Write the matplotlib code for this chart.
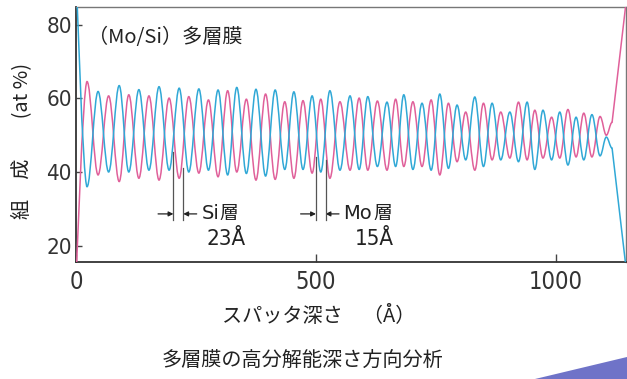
import matplotlib
matplotlib.use("Agg")
import matplotlib.pyplot as plt
from matplotlib import font_manager
from matplotlib.font_manager import FontProperties
from matplotlib.path import Path
from matplotlib.patches import PathPatch, Polygon

# ---- data (extrema of each oscillation) ----
depth = [23, 46, 68, 90, 110, 131, 152, 173, 194, 215, 235, 256, 276, 296, 316,
         335, 355, 375, 395, 415, 435, 454, 473, 492, 510, 529, 550, 571, 590,
         608, 628, 648, 666, 683, 702, 721, 740, 758, 776, 794, 812, 831, 849,
         867, 885, 904, 922, 940, 956, 973, 991, 1008, 1025, 1042, 1058, 1075,
         1092, 1105, 1117]

# blue curve (at %)
mo_pct = [36.0, 61.9, 40.0, 63.5, 40.0, 62.4, 40.5, 63.2, 40.5, 62.8, 40.0,
          62.6, 40.5, 62.3, 39.2, 63.0, 39.6, 62.5, 38.9, 62.3, 40.7, 61.8,
          40.7, 60.7, 40.0, 62.1, 40.5, 60.7, 40.7, 60.5, 41.5, 59.0, 41.5,
          61.0, 40.7, 58.7, 40.5, 61.2, 41.0, 58.2, 43.3, 60.4, 41.5, 58.7,
          43.3, 56.3, 42.8, 59.0, 40.7, 56.8, 43.3, 56.3, 41.9, 54.9, 43.3,
          55.6, 44.4, 49.5, 46.5]

# pink curve (at %)
si_pct = [64.6, 39.2, 60.7, 37.4, 61.0, 38.3, 60.7, 37.8, 60.1, 38.3, 60.5,
          39.7, 59.6, 38.7, 62.1, 40.0, 59.8, 37.8, 61.2, 38.0, 59.1, 38.3,
          59.4, 39.7, 59.8, 38.3, 59.1, 40.5, 60.1, 40.5, 59.3, 40.5, 59.8,
          41.5, 59.1, 41.5, 59.6, 39.2, 58.7, 42.8, 56.3, 40.5, 58.7, 43.3,
          56.3, 43.8, 59.0, 43.3, 56.8, 43.8, 54.9, 43.8, 57.0, 44.1, 56.0,
          44.1, 55.1, 50.0, 53.5]

# surface / substrate ends of the profile
mo_ends = [(0, 95), (1146, 14)]
si_ends = [(0, 10), (1146, 86)]

# layer thickness markers
si_marks = [203, 223.5]
si_tops = [45.5, 41.1]
mo_marks = [500, 520]
mo_tops = [44.1, 43.3]

xticks = [0, 500, 1000]
yticks = [20, 40, 60, 80]

BLUE = "#30a8d6"
PINK = "#e0609a"
JP = ["Noto Sans CJK JP", "DejaVu Sans"]


def narrow_font(size):
    # a narrow sans for the digits, whichever one is installed
    fonts = font_manager.fontManager.ttflist
    for f in fonts:
        if f.name == "Liberation Sans Narrow" and f.weight in (400, "normal") and f.style == "normal":
            return FontProperties(fname=f.fname, size=size)
    for f in fonts:
        if f.name == "DejaVu Sans" and "Condensed" in f.fname and "Bold" not in f.fname \
                and "Oblique" not in f.fname:
            return FontProperties(fname=f.fname, size=size)
    return FontProperties(family="DejaVu Sans", stretch="condensed", size=size)


def wave_path(xs, ys, ends):
    # smooth curve through the extrema (horizontal tangents at each one)
    (x0, y0), (x1, y1) = ends
    verts = [(x0, y0)]
    codes = [Path.MOVETO]
    px, py = x0, y0
    for i, (xi, yi) in enumerate(zip(xs, ys)):
        dx = xi - px
        c1 = (px, py) if i == 0 else (px + 0.364 * dx, py)
        c2 = (xi - 0.364 * dx, yi)
        verts += [c1, c2, (xi, yi)]
        codes += [Path.CURVE4] * 3
        px, py = xi, yi
    verts.append((x1, y1))
    codes.append(Path.LINETO)
    return Path(verts, codes)


fig = plt.figure(figsize=(6.27, 3.79), dpi=100)
W, H = 627, 379
ax = fig.add_axes([76 / W, 1 - 261.7 / H, 550 / W, 254.4 / H])

ax.add_patch(PathPatch(wave_path(depth, si_pct, si_ends), fill=False,
                       edgecolor=PINK, lw=1.1, zorder=3))
ax.add_patch(PathPatch(wave_path(depth, mo_pct, mo_ends), fill=False,
                       edgecolor=BLUE, lw=1.1, zorder=3))

ax.set_xlim(0, 1146)
ax.set_ylim(15.6, 84.8)
ax.set_xticks(xticks)
ax.set_yticks(yticks)
ax.set_xticklabels([str(t) for t in xticks], fontproperties=narrow_font(17), color="#333333")
ax.set_yticklabels([str(t) for t in yticks], fontproperties=narrow_font(16), color="#333333")
ax.tick_params(axis="x", direction="in", length=6, width=1, color="#444444", pad=6)
ax.tick_params(axis="y", direction="in", length=4, width=1, color="#444444", pad=3)
for side in ["left", "bottom"]:
    ax.spines[side].set_color("#333333")
    ax.spines[side].set_linewidth(1.3)
for side in ["top", "right"]:
    ax.spines[side].set_color("#777777")
    ax.spines[side].set_linewidth(1.0)

# thickness markers
y_bot = 27.0
y_arr = 28.6
for xs, tops in [(si_marks, si_tops), (mo_marks, mo_tops)]:
    for xm, yt in zip(xs, tops):
        ax.plot([xm, xm], [y_bot, yt], color="#555555", lw=0.9, zorder=4)
    ax.annotate("", xy=(xs[0], y_arr), xytext=(xs[0] - 32, y_arr),
                arrowprops=dict(arrowstyle="-|>", color="#222222", lw=0.9,
                                mutation_scale=7, shrinkA=0, shrinkB=0))
    ax.annotate("", xy=(xs[1], y_arr), xytext=(xs[1] + 28, y_arr),
                arrowprops=dict(arrowstyle="-|>", color="#222222", lw=0.9,
                                mutation_scale=7, shrinkA=0, shrinkB=0))

ax.text(262, y_arr, "Si", family=["DejaVu Sans"], fontsize=14, color="#222222",
        ha="left", va="center")
ax.text(298, y_arr, "層", family=JP, fontsize=13.5, color="#222222",
        ha="left", va="center")
ax.text(313, 21.8, "23Å", fontproperties=narrow_font(16), color="#222222",
        ha="center", va="center")
ax.text(557, y_arr, "Mo", family=["DejaVu Sans"], fontsize=14, color="#222222",
        ha="left", va="center")
ax.text(619, y_arr, "層", family=JP, fontsize=13.5, color="#222222",
        ha="left", va="center")
ax.text(621, 21.8, "15Å", fontproperties=narrow_font(16), color="#222222",
        ha="center", va="center")

ax.text(25, 76.6, "（Mo/Si）多層膜", family=JP, fontsize=14.5, color="#222222",
        ha="left", va="center")

# axis titles and caption
fig.text(23 / W, 1 - 141 / H, "組　成　　(at %)", family=JP, fontsize=14.5,
         color="#222222", rotation=90, ha="center", va="center")
fig.text(222 / W, 1 - 316 / H, "スパッタ深さ　（Å）", family=JP, fontsize=14.5,
         color="#222222", ha="left", va="center")
fig.text(162 / W, 1 - 361 / H, "多層膜の高分解能深さ方向分析", family=JP, fontsize=14.5,
         color="#222222", ha="left", va="center")

# blue band in the bottom-right corner
fig.add_artist(Polygon([(535 / W, 0), (1, 22 / H), (1, 0)], closed=True,
                       transform=fig.transFigure, facecolor="#6f73c8",
                       edgecolor="none"))

fig.savefig("out.png", dpi=100)
